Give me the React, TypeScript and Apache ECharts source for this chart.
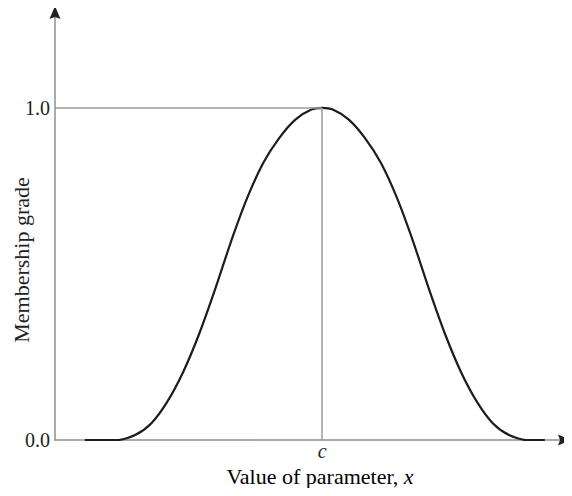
import React, { useEffect, useRef } from "react";
import * as echarts from "echarts";

// Bell-shaped membership function centred on c
const xValues = [
  0.56, 1.18, 1.5, 1.8, 2.1, 2.4, 2.7, 3.0, 3.3, 3.6, 3.9, 4.2, 4.5, 4.8,
  5.0,
  5.2, 5.5, 5.8, 6.1, 6.4, 6.7, 7.0, 7.3, 7.6, 7.9, 8.2, 8.5, 8.82, 9.17,
];
const gradeValues = [
  0, 0, 0.015, 0.05, 0.115, 0.205, 0.32, 0.455, 0.6, 0.73, 0.835, 0.91, 0.965, 0.995,
  1.0,
  0.995, 0.965, 0.91, 0.835, 0.73, 0.6, 0.455, 0.32, 0.205, 0.115, 0.05, 0.015, 0, 0,
];
const centre = 5;
const centreLabel = "c";
const gradeTicks = [0, 1];
const xMax = 9.66;
const yMax = 1.307;

const serif = "'Liberation Serif', 'Times New Roman', serif";
const axisGrey = "#8f8f8f";
const ink = "#222";

export default function App() {
  const ref = useRef<HTMLDivElement>(null);

  useEffect(() => {
    if (!ref.current) return;
    const chart = echarts.init(ref.current, undefined, { renderer: "svg" });
    const points = xValues.map((x, i) => [x, gradeValues[i]]);

    chart.setOption({
      animation: false,
      grid: { left: 55, right: 1, top: 6, bottom: 56 },
      xAxis: {
        type: "value",
        min: 0,
        max: xMax,
        splitLine: { show: false },
        axisTick: { show: false },
        axisLine: { show: true, lineStyle: { color: axisGrey, width: 1.5 } },
        axisLabel: {
          customValues: [centre],
          formatter: () => centreLabel,
          fontFamily: serif,
          fontStyle: "italic",
          fontSize: 20,
          color: ink,
          margin: 1,
        },
      },
      yAxis: {
        type: "value",
        min: 0,
        max: yMax,
        splitLine: { show: false },
        axisTick: { show: false },
        axisLine: { show: true, lineStyle: { color: axisGrey, width: 1.5 } },
        axisLabel: {
          customValues: gradeTicks,
          formatter: (v: number) => v.toFixed(1),
          fontFamily: serif,
          fontSize: 20,
          color: ink,
          margin: 5,
        },
      },
      series: [
        {
          type: "line",
          data: points,
          smooth: 0.25,
          showSymbol: false,
          lineStyle: { color: "#1c1c1c", width: 2.2 },
          markLine: {
            silent: true,
            symbol: "none",
            label: { show: false },
            lineStyle: { color: "#9a9a9a", width: 1.5, type: "solid" },
            data: [
              [{ coord: [0, 1] }, { coord: [centre, 1] }],
              [{ coord: [centre, 0] }, { coord: [centre, 1] }],
            ],
          },
          z: 3,
        },
      ],
    });

    // Arrowheads at the ends of both axes, plus the axis titles
    const xEnd = chart.convertToPixel({ gridIndex: 0 }, [xMax, 0]) as number[];
    const yEnd = chart.convertToPixel({ gridIndex: 0 }, [0, yMax]) as number[];
    const origin = chart.convertToPixel({ gridIndex: 0 }, [0, 0]) as number[];
    const top = chart.convertToPixel({ gridIndex: 0 }, [0, 1]) as number[];
    const len = 13;
    const half = 5.5;
    const notch = 2;
    chart.setOption({
      graphic: [
        {
          type: "polygon",
          shape: {
            points: [
              [xEnd[0], xEnd[1]],
              [xEnd[0] - len, xEnd[1] - half],
              [xEnd[0] - len + notch, xEnd[1]],
              [xEnd[0] - len, xEnd[1] + half],
            ],
          },
          style: { fill: "#222" },
          z: 10,
        },
        {
          type: "polygon",
          shape: {
            points: [
              [yEnd[0], yEnd[1]],
              [yEnd[0] - half, yEnd[1] + len],
              [yEnd[0], yEnd[1] + len - notch],
              [yEnd[0] + half, yEnd[1] + len],
            ],
          },
          style: { fill: "#222" },
          z: 10,
        },
        {
          type: "text",
          x: 320,
          y: origin[1] + 47,
          style: {
            text: "{a|Value of parameter, }{b|x}",
            align: "center",
            verticalAlign: "bottom",
            rich: {
              a: { fontFamily: serif, fontSize: 22, color: ink },
              b: { fontFamily: serif, fontSize: 22, fontStyle: "italic", color: ink },
            },
          },
        },
        {
          type: "text",
          x: 21,
          y: (origin[1] + top[1]) / 2 - 14,
          rotation: Math.PI / 2,
          style: {
            text: "Membership grade",
            font: `22px ${serif}`,
            fill: ink,
            align: "center",
            verticalAlign: "middle",
          },
        },
      ],
    });

    return () => chart.dispose();
  }, []);

  return <div ref={ref} style={{ width: 572, height: 496, margin: -8 }} />;
}
